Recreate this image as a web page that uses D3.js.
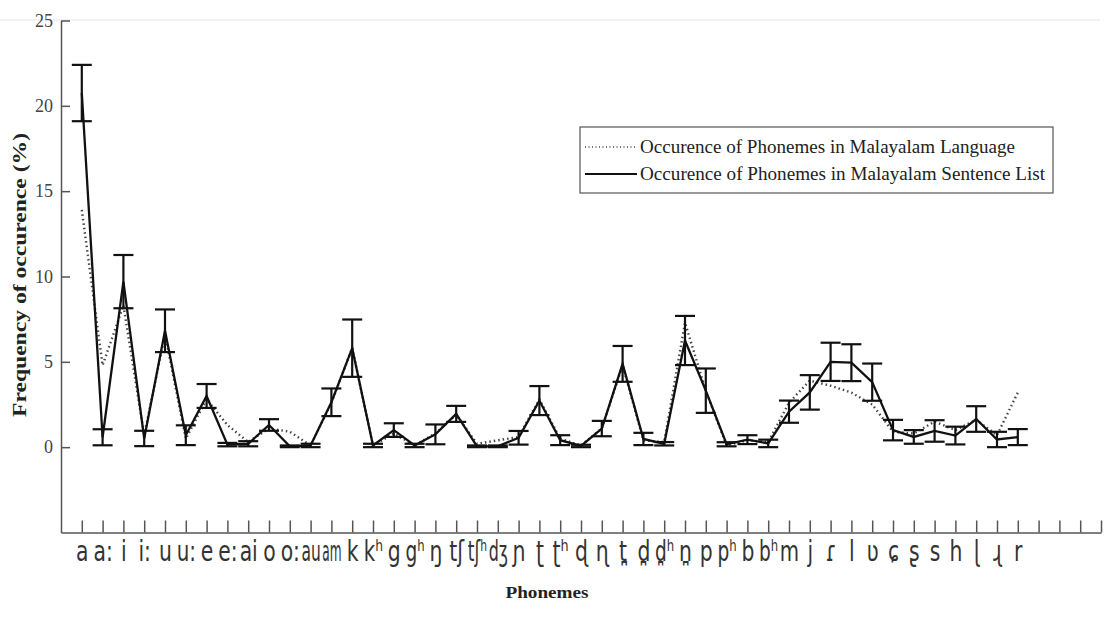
<!DOCTYPE html>
<html>
<head>
<meta charset="utf-8">
<script src="https://cdn.jsdelivr.net/npm/d3@7"></script>
<style>
  body { margin: 0; background: #fff; }
  svg { display: block; }
</style>
</head>
<body>
<svg id="chart" width="1114" height="617"></svg>
<script>
/* Phoneme labels along the x axis, one per data point */
var phonemes = ['a', 'a:', 'i', 'i:', 'u', 'u:', 'e', 'e:', 'ai', 'o', 'o:', 'au', 'am',
	'k', 'kʰ', 'g', 'gʰ', 'ŋ', 'tʃ', 'tʃʰ', 'dʒ', 'ɲ', 'ʈ', 'ʈʰ', 'ɖ', 'ɳ', 't̪', 'd̪', 'd̪ʰ', 'n̪',
	'p', 'pʰ', 'b', 'bʰ', 'm', 'j', 'ɾ', 'l', 'ʋ', 'ɕ', 'ʂ', 's', 'h', 'ɭ', 'ɻ', 'r']

/* Occurence in the sentence list (%), mean and half width of the error bar */
var sentenceMean = [20.75, 0.58, 9.7, 0.51, 6.82, 0.7, 3.0, 0.15, 0.2, 1.3, 0.05, 0.1, 2.63,
	5.8, 0.1, 1.0, 0.1, 0.75, 1.95, 0.05, 0.05, 0.55, 2.73, 0.41, 0.07, 1.09, 4.88, 0.48, 0.2, 6.25,
	3.31, 0.17, 0.44, 0.22, 2.08, 3.21, 5.0, 4.95, 3.81, 1.0, 0.6, 0.95, 0.68, 1.65, 0.45, 0.59]
var sentenceErr = [1.65, 0.47, 1.56, 0.45, 1.25, 0.58, 0.7, 0.1, 0.15, 0.34, 0.05, 0.1, 0.81,
	1.68, 0.1, 0.4, 0.1, 0.58, 0.47, 0.05, 0.05, 0.4, 0.85, 0.29, 0.07, 0.45, 1.05, 0.36, 0.1, 1.44,
	1.3, 0.12, 0.26, 0.22, 0.65, 1.01, 1.12, 1.08, 1.09, 0.6, 0.4, 0.63, 0.52, 0.75, 0.45, 0.47]

/* Occurence in the Malayalam language (%) */
var languageValues = [13.9, 4.8, 8.3, 0.7, 6.6, 0.5, 2.8, 1.3, 0.3, 1.1, 0.9, 0.1, 2.6,
	5.8, 0.1, 0.8, 0.1, 0.8, 1.9, 0.2, 0.4, 0.6, 2.8, 0.5, 0.1, 1.1, 4.8, 0.4, 0.3, 7.3,
	3.3, 0.1, 0.4, 0.3, 2.6, 3.9, 3.6, 3.2, 2.5, 0.9, 0.8, 1.5, 1.0, 1.6, 0.7, 3.2]

var yTicks = [0, 5, 10, 15, 20, 25]
var legendLabels = ['Occurence of Phonemes in Malayalam Language', 'Occurence of Phonemes in Malayalam Sentence List']

var svg = d3.select('#chart')
var serif = '"Liberation Serif", "Times New Roman", serif'

var x = d3.scaleLinear().domain([0, 50]).range([61, 1101])
var y = d3.scaleLinear().domain([-5, 25]).range([532.5, 20.5])

/* faint frame line at the top of the plot */
svg.append('line')
	.attr('x1', 0).attr('x2', 1100).attr('y1', 20).attr('y2', 20)
	.style('stroke', '#eeeeee').style('stroke-width', 1.5)

/* Y axis with inward ticks */
var yAxis = svg.append('g').attr('transform', 'translate(' + x(0) + ',0)')
	.call(d3.axisLeft(y).tickValues(yTicks).tickSizeInner(-9).tickSizeOuter(0).tickPadding(8))
yAxis.select('.domain').style('stroke', '#555').style('stroke-width', 1.5)
yAxis.selectAll('.tick line').style('stroke', '#555').style('stroke-width', 1.5)
yAxis.selectAll('.tick text')
	.style('font-family', serif).style('font-size', '18px').style('fill', '#444')

/* X axis, one tick per slot, labelled with the phonemes */
var xAxis = svg.append('g').attr('transform', 'translate(0,' + y(-5) + ')')
	.call(d3.axisBottom(x).tickValues(d3.range(1, 51)).tickSizeInner(-12).tickSizeOuter(0)
		.tickFormat(function(d) { return phonemes[d - 1] || '' }))
xAxis.select('.domain').style('stroke', '#555').style('stroke-width', 1.5)
xAxis.selectAll('.tick line').style('stroke', '#555').style('stroke-width', 1.5)
/* labels are tall and narrow in the original, so squeeze them horizontally to fit a slot */
var slot = x(1) - x(0) - 1.5
xAxis.selectAll('.tick text')
	.attr('y', 0).attr('dy', 0)
	.style('font-family', '"DejaVu Sans Condensed", "DejaVu Sans", sans-serif')
	.style('font-stretch', 'condensed')
	.style('font-size', '29px').style('fill', '#333')
	.attr('transform', function() {
		var w = this.getComputedTextLength()
		var k = w > 0 ? Math.min(0.78, slot / w) : 0.78
		return 'translate(0,28) scale(' + k + ',1)'
	})

var points = phonemes.map(function(p, i) {
	return { i: i + 1, mean: sentenceMean[i], err: sentenceErr[i], lang: languageValues[i] }
})

/* Language series, dotted */
svg.append('path').datum(points)
	.attr('d', d3.line().x(function(d) { return x(d.i) }).y(function(d) { return y(d.lang) }))
	.style('fill', 'none').style('stroke', '#444').style('stroke-width', 2.4)
	.style('stroke-dasharray', '1.5,3')

/* Sentence list series, solid */
svg.append('path').datum(points)
	.attr('d', d3.line().x(function(d) { return x(d.i) }).y(function(d) { return y(d.mean) }))
	.style('fill', 'none').style('stroke', '#111').style('stroke-width', 2.3)

/* Error bars for the sentence list */
var bars = svg.append('g').selectAll('g').data(points).enter().append('g')
	.style('stroke', '#111').style('stroke-width', 2.2)
bars.append('line')
	.attr('x1', function(d) { return x(d.i) }).attr('x2', function(d) { return x(d.i) })
	.attr('y1', function(d) { return y(d.mean - d.err) }).attr('y2', function(d) { return y(d.mean + d.err) })
bars.append('line')
	.attr('x1', function(d) { return x(d.i) - 10 }).attr('x2', function(d) { return x(d.i) + 10 })
	.attr('y1', function(d) { return y(d.mean + d.err) }).attr('y2', function(d) { return y(d.mean + d.err) })
bars.append('line')
	.attr('x1', function(d) { return x(d.i) - 10 }).attr('x2', function(d) { return x(d.i) + 10 })
	.attr('y1', function(d) { return y(d.mean - d.err) }).attr('y2', function(d) { return y(d.mean - d.err) })

/* Axis titles */
svg.append('text')
	.attr('x', 547).attr('y', 598).attr('text-anchor', 'middle')
	.attr('textLength', 83).attr('lengthAdjust', 'spacingAndGlyphs')
	.style('font-family', serif).style('font-weight', 'bold').style('font-size', '16px').style('fill', '#222')
	.text('Phonemes')
svg.append('text')
	.attr('transform', 'translate(26,275) rotate(-90)').attr('text-anchor', 'middle')
	.attr('textLength', 284).attr('lengthAdjust', 'spacingAndGlyphs')
	.style('font-family', serif).style('font-weight', 'bold').style('font-size', '18px').style('fill', '#222')
	.text('Frequency of occurence (%)')

/* Legend */
var legend = svg.append('g')
legend.append('rect')
	.attr('x', 580).attr('y', 127).attr('width', 473).attr('height', 66)
	.style('fill', '#fff').style('stroke', '#555').style('stroke-width', 1.2)
var legendRows = legend.selectAll('g.row').data(legendLabels).enter().append('g').attr('class', 'row')
	.attr('transform', function(d, i) { return 'translate(0,' + (147 + i * 27) + ')' })
legendRows.append('line')
	.attr('x1', 585).attr('x2', 637).attr('y1', 0).attr('y2', 0)
	.style('stroke', function(d, i) { return i == 0 ? '#444' : '#111' })
	.style('stroke-width', function(d, i) { return i == 0 ? 1.6 : 2 })
	.style('stroke-dasharray', function(d, i) { return i == 0 ? '1,2.5' : null })
legendRows.append('text')
	.attr('x', 640).attr('y', 6)
	.attr('textLength', function(d, i) { return i == 0 ? 375 : 405 }).attr('lengthAdjust', 'spacingAndGlyphs')
	.style('font-family', serif).style('font-size', '18px').style('fill', '#222')
	.text(function(d) { return d })
</script>
</body>
</html>
